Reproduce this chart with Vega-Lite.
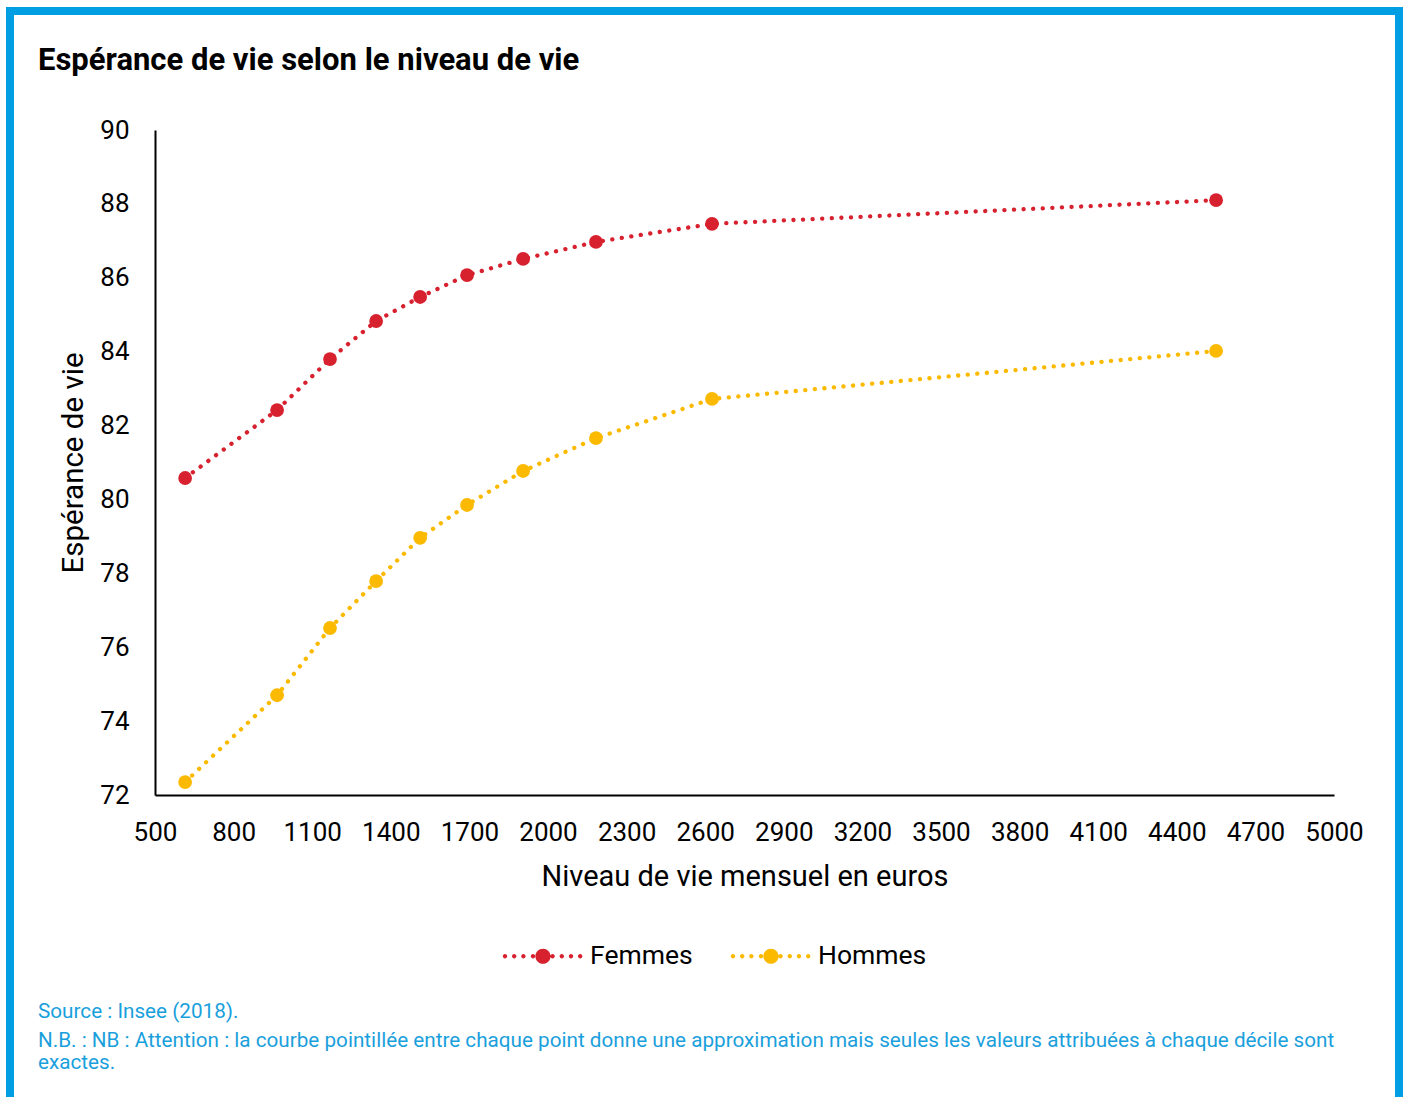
{
  "$schema": "https://vega.github.io/schema/vega-lite/v6.json",
  "autosize": {"type": "pad"},
  "padding": {"left": 6, "top": 7, "right": 0, "bottom": 0},
  "background": "white",
  "title": {
    "text": "Espérance de vie selon le niveau de vie",
    "anchor": "start",
    "frame": "group",
    "orient": "top",
    "offset": -70,
    "dx": 28,
    "font": "Roboto",
    "fontSize": 31,
    "fontWeight": "bold",
    "color": "#000000"
  },
  "datasets": {
    "esperance": [
      {"sexe": "Femmes", "revenu": 615, "esperance": 80.58},
      {"sexe": "Femmes", "revenu": 966, "esperance": 82.42},
      {"sexe": "Femmes", "revenu": 1168, "esperance": 83.8},
      {"sexe": "Femmes", "revenu": 1344, "esperance": 84.83},
      {"sexe": "Femmes", "revenu": 1512, "esperance": 85.48},
      {"sexe": "Femmes", "revenu": 1691, "esperance": 86.07},
      {"sexe": "Femmes", "revenu": 1905, "esperance": 86.51},
      {"sexe": "Femmes", "revenu": 2183, "esperance": 86.97},
      {"sexe": "Femmes", "revenu": 2626, "esperance": 87.46},
      {"sexe": "Femmes", "revenu": 4550, "esperance": 88.1},
      {"sexe": "Hommes", "revenu": 615, "esperance": 72.35},
      {"sexe": "Hommes", "revenu": 966, "esperance": 74.7},
      {"sexe": "Hommes", "revenu": 1168, "esperance": 76.52},
      {"sexe": "Hommes", "revenu": 1344, "esperance": 77.79},
      {"sexe": "Hommes", "revenu": 1512, "esperance": 78.96},
      {"sexe": "Hommes", "revenu": 1691, "esperance": 79.85},
      {"sexe": "Hommes", "revenu": 1905, "esperance": 80.77},
      {"sexe": "Hommes", "revenu": 2183, "esperance": 81.66},
      {"sexe": "Hommes", "revenu": 2626, "esperance": 82.72},
      {"sexe": "Hommes", "revenu": 4550, "esperance": 84.02}
    ]
  },
  "vconcat": [
    {
      "width": 1389,
      "height": 1100,
      "data": {"name": "esperance"},
      "title": {
        "text": "Source : Insee (2018).",
        "subtitle": ["N.B. : NB : Attention : la courbe pointillée entre chaque point donne une approximation mais seules les valeurs attribuées à chaque décile sont", "exactes."],
        "orient": "bottom",
        "anchor": "start",
        "frame": "group",
        "offset": -109,
        "dx": 28,
        "font": "Roboto",
        "fontSize": 20.7,
        "fontWeight": "normal",
        "color": "#1a9fdc",
        "subtitleFont": "Roboto",
        "subtitleFontSize": 20.7,
        "subtitleColor": "#1a9fdc",
        "subtitleLineHeight": 22,
        "subtitlePadding": 8
      },
      "encoding": {
        "x": {
          "field": "revenu",
          "type": "quantitative",
          "scale": {"domain": [500, 5000], "range": [145, 1324], "nice": false, "zero": false},
          "axis": {
            "orient": "bottom",
            "offset": -316,
            "values": [500, 800, 1100, 1400, 1700, 2000, 2300, 2600, 2900, 3200, 3500, 3800, 4100, 4400, 4700, 5000],
            "format": "d",
            "ticks": false,
            "grid": false,
            "labelFlush": false,
            "labelOverlap": false,
            "labelPadding": 24,
            "labelFont": "Roboto",
            "labelFontSize": 26,
            "labelColor": "#000000",
            "domainColor": "#000000",
            "domainWidth": 2,
            "title": "Niveau de vie mensuel en euros",
            "titleFont": "Roboto",
            "titleFontSize": 29,
            "titleFontWeight": "normal",
            "titleColor": "#000000",
            "titlePadding": 17
          }
        },
        "y": {
          "field": "esperance",
          "type": "quantitative",
          "scale": {"domain": [72, 90], "range": [784, 119], "nice": false, "zero": false},
          "axis": {
            "orient": "left",
            "offset": -145,
            "values": [72, 74, 76, 78, 80, 82, 84, 86, 88, 90],
            "ticks": false,
            "grid": false,
            "labelFlush": false,
            "labelOverlap": false,
            "labelPadding": 26,
            "labelFont": "Roboto",
            "labelFontSize": 26,
            "labelColor": "#000000",
            "domainColor": "#000000",
            "domainWidth": 2,
            "title": "Espérance de vie",
            "titleFont": "Roboto",
            "titleFontSize": 29.5,
            "titleFontWeight": "normal",
            "titleColor": "#000000",
            "titlePadding": 11
          }
        },
        "color": {
          "field": "sexe",
          "type": "nominal",
          "scale": {"domain": ["Femmes", "Hommes"], "range": ["#d7212f", "#fbba00"]},
          "legend": {
            "orient": "none",
            "legendX": 493,
            "legendY": 905,
            "direction": "horizontal",
            "title": null,
            "padding": 0,
            "symbolType": "M-0.895,0A0.055,0.055,0,1,1,-1.005,0A0.055,0.055,0,1,1,-0.895,0ZM-0.665,0A0.055,0.055,0,1,1,-0.775,0A0.055,0.055,0,1,1,-0.665,0ZM-0.435,0A0.055,0.055,0,1,1,-0.545,0A0.055,0.055,0,1,1,-0.435,0ZM-0.195,0A0.055,0.055,0,1,1,-0.305,0A0.055,0.055,0,1,1,-0.195,0ZM0.19,0A0.19,0.19,0,1,1,-0.19,0A0.19,0.19,0,1,1,0.19,0ZM0.295,0A0.055,0.055,0,1,1,0.185,0A0.055,0.055,0,1,1,0.295,0ZM0.525,0A0.055,0.055,0,1,1,0.415,0A0.055,0.055,0,1,1,0.525,0ZM0.755,0A0.055,0.055,0,1,1,0.645,0A0.055,0.055,0,1,1,0.755,0ZM0.985,0A0.055,0.055,0,1,1,0.875,0A0.055,0.055,0,1,1,0.985,0Z",
            "symbolSize": 6400,
            "symbolStrokeWidth": 0,
            "symbolOpacity": 1,
            "labelFont": "Roboto",
            "labelFontSize": 26.5,
            "labelColor": "#000000",
            "labelOffset": 7,
            "columnPadding": 37
          }
        }
      },
      "layer": [
        {
          "mark": {"type": "line", "strokeWidth": 4.3, "strokeDash": [0.1, 9.5], "strokeCap": "round"}
        },
        {
          "mark": {"type": "point", "filled": true, "opacity": 1, "size": 190, "shape": "circle"}
        }
      ]
    }
  ],
  "config": {
    "view": {"stroke": "#009fe3", "strokeWidth": 8}
  }
}
